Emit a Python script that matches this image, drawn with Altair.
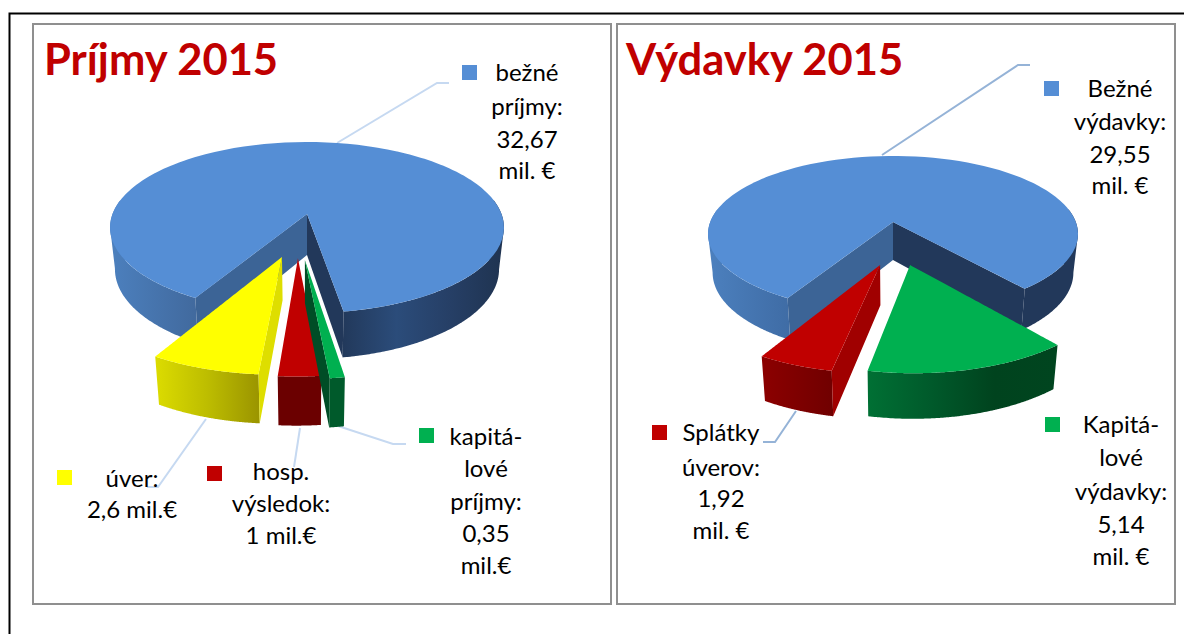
import math
import altair as alt
import pandas as pd

# ---- values ----
inc_names = ["bežné príjmy", "kapitálové príjmy", "hosp. výsledok", "úver"]
inc_values = [32.67, 0.35, 1.0, 2.6]
inc_colors = ["#558ED5", "#00B050", "#C00000", "#FFFF00"]
exp_names = ["Bežné výdavky", "Kapitálové výdavky", "Splátky úverov"]
exp_values = [29.55, 5.14, 1.92]
exp_colors = ["#558ED5", "#00B050", "#C00000"]

titles = ["Príjmy 2015", "Výdavky 2015"]
title_x = [44, 626]
title_y = [62, 62]

label_text = ["bežné", "príjmy:", "32,67", "mil. €",
              "úver:", "2,6 mil.€",
              "hosp.", "výsledok:", "1 mil.€",
              "kapitá-", "lové", "príjmy:", "0,35", "mil.€",
              "Bežné", "výdavky:", "29,55", "mil. €",
              "Splátky", "úverov:", "1,92", "mil. €",
              "Kapitá-", "lové", "výdavky:", "5,14", "mil. €"]
label_x = [527, 527, 527, 527,
           132, 132,
           281, 281, 281,
           486, 486, 486, 486, 486,
           1120, 1120, 1120, 1120,
           721, 721, 721, 721,
           1121, 1121, 1121, 1121, 1121]
label_y = [74, 108, 141, 172,
           480, 511,
           473, 505, 537,
           438, 470, 503, 535, 567,
           90, 123, 156, 187,
           434, 469, 500, 532,
           426, 459, 493, 526, 558]

legend_x = [469.5, 64.5, 214.5, 426.5, 1051.5, 659.5, 1052.5]
legend_y = [72.5, 477.5, 473.5, 435.5, 88.5, 432.5, 424.5]
legend_c = ["#558ED5", "#FFFF00", "#C00000", "#00B050", "#558ED5", "#C00000", "#00B050"]

leaders = [
    ("a", "#C6D9F1", [337, 437, 449], [143, 83, 83]),
    ("b", "#C6D9F1", [206, 158, 147], [419, 487, 487]),
    ("c", "#C6D9F1", [300, 294], [428, 467]),
    ("d", "#C6D9F1", [338, 393, 406], [426, 444, 444]),
    ("e", "#95B3D7", [882, 1018, 1030], [155, 65, 65]),
    ("f", "#95B3D7", [796, 775, 763], [411, 442, 442]),
]

PX0, PX1, PY0, PY1 = 8, 1184, 8, 634
xs = alt.Scale(domain=[PX0, PX1], nice=False, zero=False)
ys = alt.Scale(domain=[PY1, PY0], nice=False, zero=False)
X = lambda f: alt.X(f, type="quantitative", scale=xs, axis=None)
Y = lambda f: alt.Y(f, type="quantitative", scale=ys, axis=None)


def grad(*cols):
    n = len(cols) - 1
    return alt.Gradient(gradient="linear", x1=0, x2=1, y1=0, y2=0,
                        stops=[alt.GradientStop(offset=i / n, color=c) for i, c in enumerate(cols)])


def area(poly, fill, extra=()):
    """Fill a polygon that is convex along y, as one area mark."""
    grid = sorted({round(p[0], 2) for p in poly})
    rows = []
    n = len(poly)
    edges = [(poly[i], poly[(i + 1) % n]) for i in range(n)] + list(extra)
    for x in grid:
        hits = []
        for (x0, y0), (x1, y1) in edges:
            lo, hi = min(x0, x1), max(x0, x1)
            if lo - 0.006 <= x <= hi + 0.006:
                if abs(x1 - x0) < 1e-6:
                    hits += [y0, y1]
                else:
                    t = min(1, max(0, (x - x0) / (x1 - x0)))
                    hits.append(y0 + t * (y1 - y0))
        if hits:
            rows.append({"x": x, "y": min(hits), "y2": max(hits)})
    return alt.Chart(pd.DataFrame(rows)).mark_area(fill=fill, stroke=None, interpolate="linear").encode(
        x=X("x"), y=Y("y"), y2=alt.Y2("y2"))


class Pie:
    def __init__(self, ax, ay, R, kR, e, depth):
        self.ax, self.ay, self.R, self.kR, self.e, self.depth = ax, ay, R, kR, e, depth

    def top(self, X_, Z_):
        w = 1 - self.e * Z_
        return (self.ax + self.R * X_ / w, self.ay + self.kR * Z_ / w)

    def bot(self, X_, Z_):
        w = 1 - self.e * Z_
        return (self.ax + 0.975 * self.R * X_ / w, self.ay + self.depth + 1.05 * self.kR * Z_ / w)

    def rim(self, fn, a0, a1, off, n=90):
        pts = []
        for i in range(n + 1):
            a = math.radians(a0 + (a1 - a0) * i / n)
            pts.append(fn(math.sin(a) + off[0], math.cos(a) + off[1]))
        return pts

    def spans(self, values, start):
        total = sum(values)
        out, a = [], start
        for v in values:
            b = a - v / total * 360
            out.append((a, b))
            a = b
        return out

    def top_poly(self, a0, a1, off):
        return [self.top(*off)] + self.rim(self.top, a0, a1, off)

    def wall(self, a0, a1, off):
        return self.rim(self.top, a0, a1, off) + self.rim(self.bot, a0, a1, off)[::-1]

    def silhouette(self, a0, a1, off, pick):
        """The edge that joins the rim's outermost point to the same point below it."""
        return [(pick(self.rim(self.top, a0, a1, off), key=lambda c: c[0]),
                 pick(self.rim(self.bot, a0, a1, off), key=lambda c: c[0]))]

    def face(self, a, off):
        r = math.radians(a)
        p = (math.sin(r) + off[0], math.cos(r) + off[1])
        return [self.top(*off), self.top(*p), self.bot(*p), self.bot(*off)]


layers = []

# frame and panels
frame = pd.DataFrame({"x": [9.5, 9.5, 1184], "y": [634, 13.5, 13.5]})
layers.append(alt.Chart(frame.assign(o=range(3))).mark_line(color="#000000", strokeWidth=2).encode(
    x=X("x"), y=Y("y"), order="o:Q"))
panels = pd.DataFrame({"x": [33, 617], "x2": [611, 1175], "y": [24, 24], "y2": [604, 604]})
layers.append(alt.Chart(panels).mark_rect(fill="#FFFFFF", stroke="#8F8F8F", strokeWidth=2).encode(
    x=X("x"), x2="x2", y=Y("y"), y2="y2"))

# leaders
for name, col, lx, ly in leaders:
    d = pd.DataFrame({"x": lx, "y": ly, "o": range(len(lx))})
    layers.append(alt.Chart(d).mark_line(color=col, strokeWidth=2).encode(x=X("x"), y=Y("y"), order="o:Q"))

# ---- left pie ----
p = Pie(307, 214, 194.5, 83.4, 0.158, 41)
s = p.spans(inc_values, -29.7)
o0 = (0, 0)
layers += [
    area(p.wall(s[0][0], -100, o0), grad("#4C80BE", "#41699D"), p.silhouette(s[0][0], -100, o0, min)),
    area(p.wall(s[0][1], -260, o0), grad("#22395B", "#2B4C7A", "#263F66", "#1F3350"),
         p.silhouette(s[0][1], -260, o0, max)),
    area(p.face(s[0][0], o0), "#3C6496"),
    area(p.face(s[0][1], o0), "#22385A"),
    area(p.top_poly(s[0][0], s[0][1], o0), inc_colors[0]),
]
oy = (-0.119, 0.477)
layers += [
    area(p.wall(s[3][0], s[3][1], oy), grad("#DCDC00", "#BDBD00", "#9A9400")),
    area(p.face(s[3][0], oy), "#DEDE00"),
    area(p.top_poly(s[3][0], s[3][1], oy), inc_colors[3]),
]
or_ = (-0.043, 0.49)
layers += [
    area(p.wall(s[2][0], s[2][1], or_), "#6B0000"),
    area(p.top_poly(s[2][0], s[2][1], or_), inc_colors[2]),
]
og = (-0.01, 0.507)
layers += [
    area(p.face(s[1][1], og), "#004D26"),
    area(p.wall(s[1][0], s[1][1], og), "#005A2B"),
    area(p.top_poly(s[1][0], s[1][1], og), inc_colors[1]),
]

# ---- right pie ----
q = Pie(893, 222, 182.8, 76.2, 0.154, 38)
t = q.spans(exp_values, -30)
layers += [
    area(q.wall(t[0][0], -100, o0), grad("#4C80BE", "#3F6CA5"), q.silhouette(t[0][0], -100, o0, min)),
    area(q.wall(t[0][1], -260, o0), "#22385A", q.silhouette(t[0][1], -260, o0, max)),
    area(q.face(t[0][0], o0), "#3C6496"),
    area(q.face(t[0][1], o0), "#22385A"),
    area(q.top_poly(t[0][0], t[0][1], o0), exp_colors[0]),
]
og2 = (0.086, 0.52)
layers += [
    area(q.wall(t[1][0], t[1][1], og2), grad("#007034", "#005A2B", "#00431E", "#00451F")),
    area(q.top_poly(t[1][0], t[1][1], og2), exp_colors[1]),
]
or2 = (-0.065, 0.52)
layers += [
    area(q.wall(t[2][0], t[2][1], or2), grad("#8C0000", "#700000")),
    area(q.face(t[2][0], or2), "#A00000"),
    area(q.top_poly(t[2][0], t[2][1], or2), exp_colors[2]),
]

# legend squares
leg = pd.DataFrame({"x": legend_x, "y": legend_y, "c": legend_c})
layers.append(alt.Chart(leg).mark_square(size=225, opacity=1, filled=True).encode(
    x=X("x"), y=Y("y"), fill=alt.Fill("c:N", scale=None)))

# labels
lab = pd.DataFrame({"x": label_x, "y": label_y, "t": label_text})
layers.append(alt.Chart(lab).mark_text(font="Lato", fontSize=24, color="#000000", align="center",
                                       baseline="middle").encode(x=X("x"), y=Y("y"), text="t:N"))

# titles
tit = pd.DataFrame({"x": title_x, "y": title_y, "t": titles})
layers.append(alt.Chart(tit).mark_text(font="Lato", fontSize=43.5, fontWeight="bold", color="#C00000",
                                       align="left", baseline="middle").encode(
    x=X("x"), y=Y("y"), text="t:N"))

chart = alt.layer(*layers).properties(
    width=PX1 - PX0, height=PY1 - PY0, padding=0, autosize="none", background="#FFFFFF"
).configure_view(stroke=None)

chart.save("out.html", embed_options={"renderer": "svg", "actions": False})
